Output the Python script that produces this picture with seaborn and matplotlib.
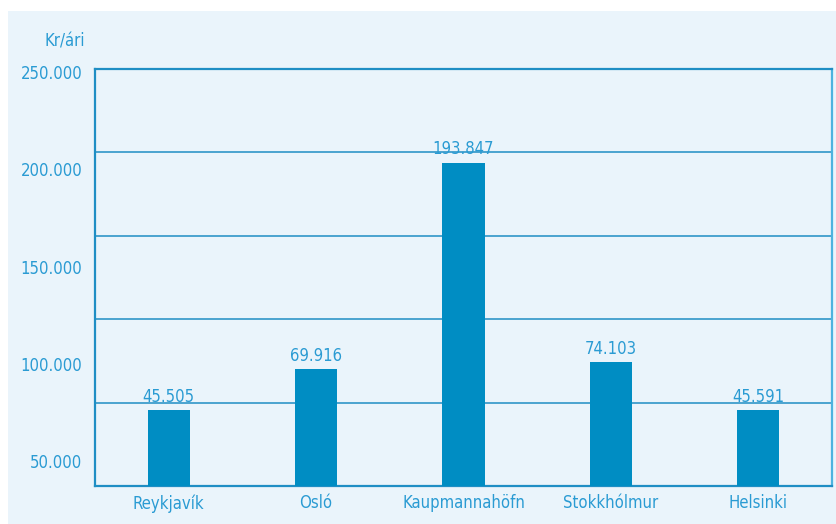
import matplotlib
matplotlib.use("Agg")
import matplotlib.pyplot as plt
import seaborn as sns
import pandas as pd
from matplotlib.patches import Rectangle

cities = ["Reykjavík", "Osló", "Kaupmannahöfn", "Stokkhólmur", "Helsinki"]
values = [45505, 69916, 193847, 74103, 45591]
value_labels = ["45.505", "69.916", "193.847", "74.103", "45.591"]
grid_values = [50000, 100000, 150000, 200000, 250000]
tick_values = [50000, 100000, 150000, 200000, 250000]
tick_labels = ["50.000", "100.000", "150.000", "200.000", "250.000"]
unit_label = "Kr/ári"

BAR = "#008DC3"
LINE = "#1F8EC4"
TXT = "#2A9BD3"
BG = "#EAF4FB"
FS = 12

sns.set_theme(style="white")
plt.rcParams["font.family"] = ["DejaVu Sans"]
plt.rcParams["font.stretch"] = "condensed"

fig = plt.figure(figsize=(8.37, 5.24), dpi=100)
fig.patches.append(Rectangle((8 / 837, 0), 1, 1 - 11 / 524, transform=fig.transFigure,
                             facecolor=BG, edgecolor="none", zorder=-10))

ax = fig.add_axes([95 / 837, 38 / 524, (832 - 95) / 837, (486 - 69) / 524])
ax.set_facecolor(BG)
df = pd.DataFrame({"city": cities, "value": values})
sns.barplot(data=df, x="city", y="value", color=BAR, width=0.285, saturation=1,
            linewidth=0, ax=ax, zorder=3)
ax.set_ylim(0, 250000)
ax.set_xlim(-0.5, len(cities) - 0.5)
for g in grid_values:
    ax.axhline(g, color=LINE, lw=1.1, zorder=2)
ax.set_yticks([])
ax.set_xlabel("")
ax.set_ylabel("")
ax.tick_params(axis="x", length=0, pad=6, labelsize=FS, labelcolor=TXT)
for s in ax.spines.values():
    s.set_visible(True)
    s.set_color(LINE)
    s.set_linewidth(1.6)
ax.spines["right"].set_color("#4DB3DF")

for i, (v, lab) in enumerate(zip(values, value_labels)):
    ax.annotate(lab, (i, v), xytext=(0, 3), textcoords="offset points",
                ha="center", va="bottom", color=TXT, fontsize=FS, zorder=4)

# left tick labels axis (labels on their own scale, as in the reference)
ax2 = ax.twinx()
ax2.yaxis.set_ticks_position("left")
ax2.yaxis.set_label_position("left")
ax2.set_ylim(37150, 251540)
ax2.set_yticks(tick_values)
ax2.set_yticklabels(tick_labels)
ax2.tick_params(axis="y", length=0, pad=9, labelsize=FS, labelcolor=TXT)
for s in ax2.spines.values():
    s.set_visible(False)
ax2.grid(False)

fig.text(85 / 837, 1 - 42 / 524, unit_label, ha="right", va="center",
         color=TXT, fontsize=FS)

fig.savefig("out.png", dpi=100)
